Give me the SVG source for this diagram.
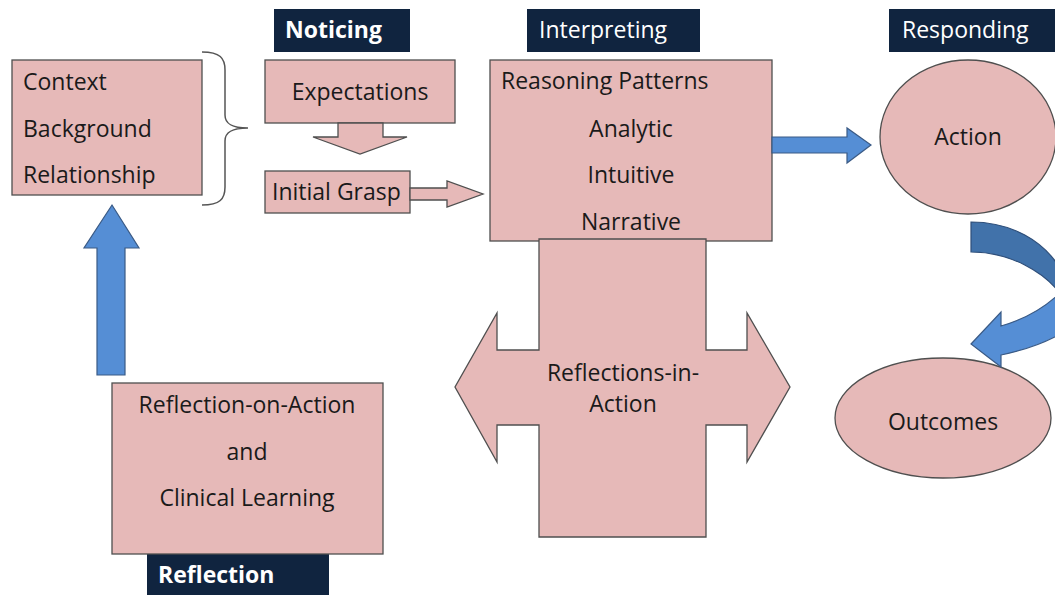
<svg xmlns="http://www.w3.org/2000/svg" width="1055" height="595" viewBox="0 0 1055 595">
<style>
.box{fill:#E6B9B8;stroke:#4f4f4f;stroke-width:1.3}
.lab{fill:#10243F}
.t{font-family:"Open Sans","Liberation Sans",sans-serif;font-size:23px;fill:#1a1a1a}
.c{text-anchor:middle}
.lt{font-family:"Open Sans","Liberation Sans",sans-serif;font-size:23px;fill:#ffffff}
.b{font-weight:bold}
.blue{fill:#558ED5;stroke:#3a5a85;stroke-width:1.2}
.dblue{fill:#4172AA;stroke:#2f4f7a;stroke-width:1.2}
.brace{fill:none;stroke:#555;stroke-width:1.5}
</style>
<rect width="1055" height="595" fill="#ffffff"/>

<g id="label-noticing">
<rect class="lab" x="274" y="9" width="136" height="43"/>
<text class="lt b" x="285" y="38">Noticing</text>
</g>
<g id="label-interpreting">
<rect class="lab" x="527" y="9" width="173" height="43"/>
<text class="lt" x="539" y="38">Interpreting</text>
</g>
<g id="label-responding">
<rect class="lab" x="889" y="9" width="170" height="43"/>
<text class="lt" x="902" y="38">Responding</text>
</g>
<g id="label-reflection">
<rect class="lab" x="147" y="554" width="182" height="45"/>
<text class="lt b" x="158" y="583">Reflection</text>
</g>

<g id="context">
<rect class="box" x="12" y="60" width="190" height="135"/>
<text class="t" x="23" y="90">Context</text>
<text class="t" x="23" y="137">Background</text>
<text class="t" x="23" y="183">Relationship</text>
</g>

<g id="expectations">
<rect class="box" x="265" y="60" width="190" height="63"/>
<text class="t c" x="360" y="100">Expectations</text>
</g>

<g id="initial-grasp">
<rect class="box" x="265" y="171" width="145" height="42"/>
<text class="t" x="272" y="200">Initial Grasp</text>
</g>

<g id="reasoning">
<rect class="box" x="490" y="60" width="282" height="181"/>
<text class="t" x="501" y="89">Reasoning Patterns</text>
<text class="t c" x="631" y="137">Analytic</text>
<text class="t c" x="631" y="183">Intuitive</text>
<text class="t c" x="631" y="230">Narrative</text>
</g>

<g id="reflections-in-action">
<path class="box" d="M539,239 L706,239 L706,350 L747,350 L747,313 L790,387 L747,462 L747,425 L706,425 L706,537 L539,537 L539,425 L497,425 L497,462 L455,387 L497,313 L497,350 L539,350 Z"/>
<text class="t c" x="623" y="381">Reflections-in-</text>
<text class="t c" x="623" y="412">Action</text>
</g>

<g id="action">
<ellipse class="box" cx="968" cy="137" rx="88" ry="77"/>
<text class="t c" x="968" y="145">Action</text>
</g>

<g id="outcomes">
<ellipse class="box" cx="943" cy="418" rx="108" ry="60"/>
<text class="t c" x="943" y="430">Outcomes</text>
</g>

<g id="reflection-on-action">
<rect class="box" x="112" y="383" width="271" height="171"/>
<text class="t c" x="247" y="413">Reflection-on-Action</text>
<text class="t c" x="247" y="460">and</text>
<text class="t c" x="247" y="506">Clinical Learning</text>
</g>

<g id="connectors">
<path class="brace" d="M202,52 C220,52 225,58 225,70 L225,115 C225,124 232,128 248,128 C232,128 225,132 225,141 L225,187 C225,199 220,205 202,205"/>
<path class="box" d="M338,123 L383,123 L383,137 L407,137 L360,154 L313,137 L338,137 Z"/>
<path class="box" d="M410,188 L447,188 L447,181 L483,194 L447,207 L447,200 L410,200 Z"/>
<path class="blue" d="M772,137 L847,137 L847,128 L871,145 L847,163 L847,153 L772,153 Z"/>
<path class="blue" d="M1062,291 C1045,308 1022,320 1001,326 L1001,312 L971,344 L1001,367 L1001,355 C1025,350 1045,343 1062,333 Z"/>
<path class="dblue" d="M971,222 C1010,222 1045,240 1062,272 L1062,296 C1045,272 1010,252 971,252 Z"/>
<path class="blue" d="M97,375 L125,375 L125,248 L139,248 L112,205 L84,248 L97,248 Z"/>
</g>
</svg>
